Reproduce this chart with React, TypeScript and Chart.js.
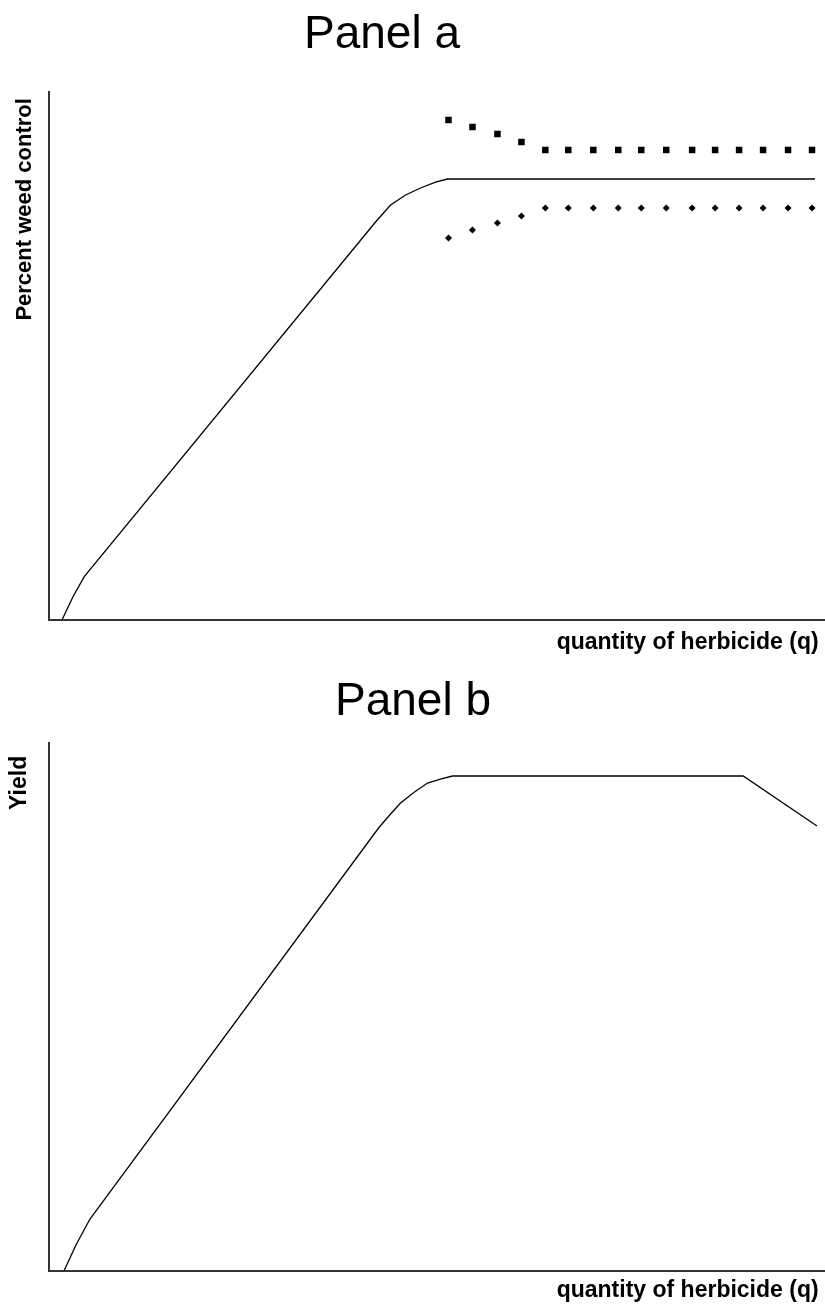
import React, { useEffect, useRef } from "react";
import { Chart, registerables } from "chart.js";

Chart.register(...registerables);

// Panel a: percent weed control vs quantity of herbicide
const weedX = [1.67, 3.09, 4.54, 42.08, 44.02, 45.95, 47.88, 49.81, 51.35, 98.71];
const weedY = [0, 4.41, 8.2, 75.38, 78.6, 80.49, 81.82, 82.95, 83.52, 83.52];

// Panel a: dotted bounds around the plateau
const boundX = [51.48, 54.57, 57.79, 60.88, 63.96, 66.92, 70.14, 73.36, 76.32, 79.54, 82.88, 85.84, 88.93, 92.02, 95.24, 98.33];
const upperY = [94.7, 93.37, 92.05, 90.53, 89.02, 89.02, 89.02, 89.02, 89.02, 89.02, 89.02, 89.02, 89.02, 89.02, 89.02, 89.02];
const lowerY = [72.35, 73.86, 75.19, 76.52, 78.03, 78.03, 78.03, 78.03, 78.03, 78.03, 78.03, 78.03, 78.03, 78.03, 78.03, 78.03];

// Panel b: yield vs quantity of herbicide
const yieldX = [1.93, 3.47, 5.28, 42.47, 44.02, 45.3, 47.1, 48.78, 50.45, 52.0, 89.45, 98.97];
const yieldY = [0, 4.92, 9.85, 83.9, 86.55, 88.64, 90.72, 92.42, 93.18, 93.75, 93.75, 84.28];

const panelTitles = ["Panel a", "Panel b"];
const xTitle = "quantity of herbicide (q) ";
const yTitleA = "Percent weed control ";
const yTitleB = "Yield  ";

const FONT = "'Liberation Sans', Arial, Helvetica, sans-serif";

function pts(xs: number[], ys: number[]) {
  return xs.map((x, i) => ({ x, y: ys[i] }));
}

function lineSet(xs: number[], ys: number[]) {
  return {
    data: pts(xs, ys),
    borderColor: "#000",
    borderWidth: 1.3,
    pointRadius: 0,
    tension: 0,
    showLine: true,
    fill: false,
  };
}

function dotSet(xs: number[], ys: number[], style: string, r: number) {
  return {
    data: pts(xs, ys),
    showLine: false,
    pointStyle: style,
    pointRadius: r,
    pointBackgroundColor: "#000",
    pointBorderColor: "#000",
    pointBorderWidth: 0,
    borderWidth: 0,
  };
}

function makeConfig(
  datasets: any[],
  padTop: number,
  yText: string,
  yFontSize: number,
  yPadTop: number,
  xHeight: number,
  xPadBottom: number
): any {
  return {
    type: "line",
    data: { datasets },
    options: {
      responsive: false,
      animation: false,
      layout: {
        autoPadding: false,
        padding: { top: padTop, left: 0, right: 0, bottom: 0 },
      },
      plugins: {
        legend: { display: false },
        tooltip: { enabled: false },
        title: { display: false },
      },
      scales: {
        x: {
          type: "linear",
          min: 0,
          max: 100,
          grid: { display: false, drawTicks: false },
          border: { display: true, color: "#333", width: 2 },
          ticks: { display: false },
          title: {
            display: true,
            text: xTitle,
            align: "end",
            color: "#000",
            font: { family: FONT, size: 23, weight: "bold" },
            padding: { top: 0, bottom: xPadBottom },
          },
          afterFit: (s: any) => {
            s.height = xHeight;
          },
        },
        y: {
          type: "linear",
          min: 0,
          max: 100,
          grid: { display: false, drawTicks: false },
          border: { display: true, color: "#333", width: 2 },
          ticks: { display: false },
          title: {
            display: true,
            text: yText,
            align: "end",
            color: "#000",
            font: { family: FONT, size: yFontSize, weight: "bold" },
            padding: { top: yPadTop, bottom: 0 },
          },
          afterFit: (s: any) => {
            s.width = 49;
          },
        },
      },
    },
  };
}

export default function App() {
  const refA = useRef<HTMLCanvasElement | null>(null);
  const refB = useRef<HTMLCanvasElement | null>(null);

  useEffect(() => {
    if (!refA.current || !refB.current) return;
    const a = new Chart(
      refA.current,
      makeConfig(
        [
          lineSet(weedX, weedY),
          dotSet(boundX, upperY, "rect", 4.6),
          dotSet(boundX, lowerY, "rectRot", 3.5),
        ],
        92,
        yTitleA,
        22,
        12.2,
        40,
        4.0
      )
    );
    const b = new Chart(
      refB.current,
      makeConfig([lineSet(yieldX, yieldY)], 83, yTitleB, 23, 5.5, 42, 8.2)
    );
    return () => {
      a.destroy();
      b.destroy();
    };
  }, []);

  const titleStyle = (top: number, center: number): React.CSSProperties => ({
    position: "absolute",
    top,
    left: center - 150,
    width: 300,
    textAlign: "center",
    fontFamily: FONT,
    fontSize: 46,
    lineHeight: "46px",
    color: "#000",
    whiteSpace: "nowrap",
  });

  return (
    <div
      style={{
        position: "absolute",
        left: 0,
        top: 0,
        width: 825,
        height: 1313,
        background: "#fff",
        overflow: "hidden",
      }}
    >
      <canvas
        ref={refA}
        width={825}
        height={660}
        style={{ position: "absolute", left: 0, top: 0, width: 825, height: 660 }}
      />
      <canvas
        ref={refB}
        width={825}
        height={653}
        style={{ position: "absolute", left: 0, top: 660, width: 825, height: 653 }}
      />
      <div style={titleStyle(9, 382)}>{panelTitles[0]}</div>
      <div style={titleStyle(676, 413)}>{panelTitles[1]}</div>
    </div>
  );
}
